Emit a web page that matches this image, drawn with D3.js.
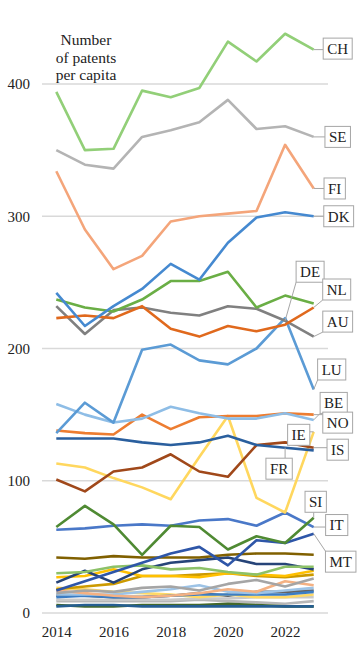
<!DOCTYPE html>
<html><head><meta charset="utf-8">
<script src="https://cdn.jsdelivr.net/npm/d3@7"></script>
<style>html,body{margin:0;padding:0;background:#fff;}svg{display:block;}</style>
</head><body>
<svg id="chart" width="361" height="654"></svg>
<script>
// ---------- data ----------
const years = [2014,2015,2016,2017,2018,2019,2020,2021,2022,2023];
const xTickLabels = [2014,2016,2018,2020,2022];
const yTickValues = [0,100,200,300,400];
const titleLines = ["Number","of patents","per capita"];

const CH = [394,350,351,395,390,397,432,417,438,426];
const SE = [350,339,336,360,365,371,388,366,368,360];
const FI = [334,290,260,270,296,300,302,304,354,321];
const DK = [242,217,232,245,264,252,280,299,303,300];
const DE = [237,231,228,237,251,251,258,231,240,234];
const NL = [223,225,223,232,215,209,217,213,218,231];
const AU = [232,211,229,231,227,225,232,230,221,209];
const LU = [136,159,144,199,203,191,188,200,223,169];
const BE = [158,150,144,147,156,151,147,147,151,146];
const NO = [138,136,135,150,139,148,149,149,151,150];
const FR = [132,132,132,129,127,129,134,127,125,123];
const IS = [101,92,107,110,120,107,103,127,129,125];
const IE = [113,110,102,95,86,118,149,87,76,137];
const SI = [65,81,67,44,66,65,48,58,53,72];
const IT = [63,64,66,67,66,70,71,66,76,65];
const MT = [17,24,31,38,45,50,36,55,53,60];
// smaller, unlabelled countries
const S01 = [42,41,43,42,42,42,44,45,45,44];
const S02 = [30,31,35,36,33,34,31,29,35,35];
const S03 = [23,32,23,33,38,40,42,37,37,33];
const S04 = [27,28,33,28,28,27,30,29,28,32];
const S05 = [18,20,22,28,28,29,30,28,27,29];
const S06 = [15,17,16,19,20,17,22,25,20,26];
const S07 = [17,15,13,12,13,15,18,16,24,21];
const S08 = [14,14,14,16,18,21,16,15,17,19];
const S09 = [12,13,12,12,13,14,14,14,14,16];
const S10 = [19,18,16,15,14,12,14,12,12,14];
const S11 = [13,13,12,12,13,15,13,16,16,17];
const S12 = [10,10,10,10,10,11,11,12,12,12];
const S13 = [9,9,9,9,9,10,9,8,7,9];
const S14 = [6,5,5,6,6,6,7,6,5,5];
const S15 = [5,6,6,5,5,5,5,5,5,5];

// ---------- styling / layout ----------
const series = [
  {v:S13,c:"#b7b7b7"},{v:S12,c:"#c9c9c9"},{v:S11,c:"#636363"},{v:S10,c:"#ffd966"},
  {v:S09,c:"#3c7dc4"},{v:S08,c:"#9dc3e6"},{v:S07,c:"#f4b183"},{v:S06,c:"#a5a5a5"},
  {v:S05,c:"#cc9a00"},{v:S04,c:"#ffc000"},{v:S03,c:"#264478"},{v:S02,c:"#8cc168"},
  {v:S01,c:"#806000"},{v:S14,c:"#43682b"},{v:S15,c:"#255e91"},
  {v:MT,c:"#2e56a8"},{v:IT,c:"#4a78c8"},{v:SI,c:"#4f8a33"},
  {v:IE,c:"#ffd75e"},{v:IS,c:"#a0481a"},{v:FR,c:"#2a5f9e"},
  {v:NO,c:"#ed7d31"},{v:BE,c:"#8ebde6"},{v:LU,c:"#5b9bd5"},
  {v:AU,c:"#808080"},{v:NL,c:"#e0691d"},{v:DE,c:"#6aae45"},
  {v:DK,c:"#4589d0"},{v:FI,c:"#f4a57a"},{v:SE,c:"#b4b4b4"},
  {v:CH,c:"#92cf78"}
];
// callout label placement: anchor point (series, year) and box offset in px
const labelLayout = [
  {t:"CH",s:CH,yr:2023,dx:24,dy:-1},
  {t:"SE",s:SE,yr:2023,dx:24,dy:0},
  {t:"FI",s:FI,yr:2023,dx:21,dy:0},
  {t:"DK",s:DK,yr:2023,dx:25,dy:0},
  {t:"DE",s:AU,yr:2022,dx:25,dy:-49},
  {t:"NL",s:NL,yr:2023,dx:23,dy:-18},
  {t:"AU",s:AU,yr:2023,dx:24,dy:-15},
  {t:"LU",s:LU,yr:2023,dx:18,dy:-20},
  {t:"BE",s:BE,yr:2023,dx:20,dy:-17},
  {t:"NO",s:NO,yr:2023,dx:24,dy:8},
  {t:"IE",s:IE,yr:2023,dx:-15,dy:3},
  {t:"IS",s:IS,yr:2023,dx:24,dy:2},
  {t:"FR",s:FR,yr:2022,dx:-6,dy:21},
  {t:"SI",s:SI,yr:2023,dx:2,dy:-16},
  {t:"IT",s:IT,yr:2023,dx:23,dy:-2},
  {t:"MT",s:MT,yr:2023,dx:27,dy:28}
];

const plot = {left:42, right:328, top:84, bottom:613};
const FONT = "'Liberation Serif','Times New Roman',serif";

const svg = d3.select("#chart");
const x = d3.scalePoint().domain(years).range([plot.left, plot.right]).padding(0.5);
const y = d3.scaleLinear().domain([0,400]).range([plot.bottom, plot.top]);

// gridlines
svg.append("g").selectAll("line").data(yTickValues).join("line")
  .attr("x1", plot.left).attr("x2", plot.right)
  .attr("y1", d=>y(d)).attr("y2", d=>y(d))
  .attr("stroke", "#d9d9d9").attr("stroke-width", 1.5);

// y axis labels
const yAxis = d3.axisLeft(y).tickValues(yTickValues).tickSize(0).tickPadding(0);
const gy = svg.append("g").attr("transform", `translate(${plot.left-12},0)`).call(yAxis);
gy.select(".domain").remove();
gy.selectAll("text").attr("font-family", FONT).attr("font-size", 15).attr("fill", "#222");

// x axis labels
const xAxis = d3.axisBottom(x).tickValues(xTickLabels).tickSize(0).tickPadding(0);
const gx = svg.append("g").attr("transform", `translate(0,${plot.bottom+13})`).call(xAxis);
gx.select(".domain").remove();
gx.selectAll("text").attr("font-family", FONT).attr("font-size", 15).attr("fill", "#222");

// title
svg.append("text").attr("x", 86).attr("y", 45)
  .attr("text-anchor", "middle").attr("font-family", FONT).attr("font-size", 15.5).attr("fill", "#222")
  .selectAll("tspan").data(titleLines).join("tspan")
  .attr("x", 86).attr("dy", (d,i)=> i===0 ? 0 : 17.5).text(d=>d);

// lines
const line = d3.line().x((d,i)=>x(years[i])).y(d=>y(d));
svg.append("g").selectAll("path").data(series).join("path")
  .attr("d", d=>line(d.v)).attr("fill", "none")
  .attr("stroke", d=>d.c).attr("stroke-width", 2.6)
  .attr("stroke-linejoin", "round").attr("stroke-linecap", "butt");

// callout labels
const gl = svg.append("g");
labelLayout.forEach(L => {
  const ax = x(L.yr), ay = y(L.s[years.indexOf(L.yr)]);
  const cx = ax + L.dx, cy = ay + L.dy;
  const t = gl.append("text").attr("x", cx).attr("y", cy).attr("dy", "0.35em")
    .attr("text-anchor", "middle").attr("font-family", FONT).attr("font-size", 15).attr("fill", "#222").text(L.t);
  const bb = t.node().getBBox();
  const bw = bb.width + 8, bh = 21;
  const x0 = cx - bw/2, y0 = cy - bh/2;
  const lx = Math.max(x0, Math.min(ax, x0+bw)), ly = Math.max(y0, Math.min(ay, y0+bh));
  gl.insert("line", "text").attr("x1", ax).attr("y1", ay).attr("x2", lx).attr("y2", ly)
    .attr("stroke", "#a6a6a6").attr("stroke-width", 1);
  gl.insert("rect", "text").attr("x", x0).attr("y", y0).attr("width", bw).attr("height", bh)
    .attr("fill", "#fff").attr("stroke", "#a6a6a6").attr("stroke-width", 1);
  t.raise();
});
</script>
</body></html>
